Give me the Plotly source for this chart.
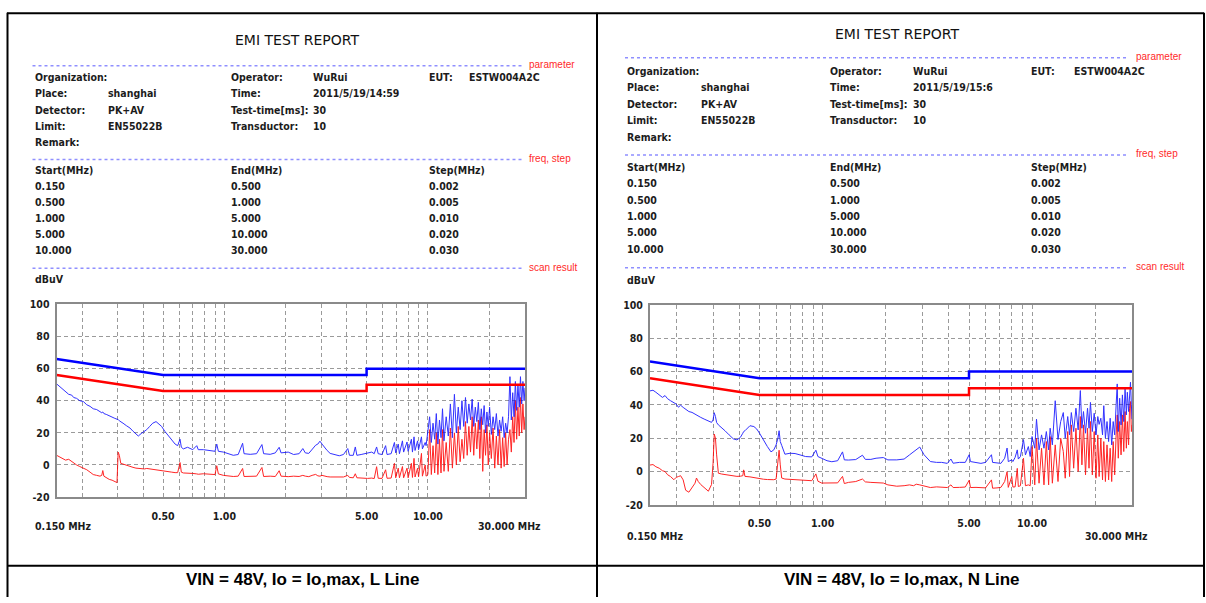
import plotly.graph_objects as go

# ---------------- data ----------------
limit_freq = [0.15, 0.5, 5.0, 5.0, 30.0]
limit_qp = [66, 56, 56, 60, 60]
limit_av = [56, 46, 46, 50, 50]

# L line scan (MHz, dBuV)
l_freq = [0.150, 0.155, 0.160, 0.166, 0.172, 0.178, 0.182, 0.188, 0.195, 0.203,
          0.211, 0.219, 0.227, 0.236, 0.245, 0.250, 0.253, 0.256, 0.263, 0.272,
          0.281, 0.290, 0.297, 0.301, 0.305, 0.310, 0.318, 0.330, 0.344, 0.356,
          0.368, 0.378, 0.390, 0.405, 0.416, 0.430, 0.445, 0.462, 0.478, 0.492,
          0.510, 0.531, 0.552, 0.573, 0.590, 0.606, 0.615, 0.629, 0.660, 0.700,
          0.732, 0.745, 0.790, 0.850, 0.900, 0.918, 0.935, 0.990, 1.050, 1.107,
          1.170, 1.230, 1.250, 1.340, 1.440, 1.530, 1.560, 1.680, 1.780, 1.860,
          1.900, 2.060, 2.190, 2.330, 2.430, 2.500, 2.600, 2.700, 2.810, 2.880,
          2.950, 3.020, 3.090, 3.200, 3.310, 3.500, 3.670, 3.850, 4.040, 4.120,
          4.300, 4.400, 4.480, 4.700, 4.900, 5.050, 5.300, 5.450, 5.600, 5.700,
          5.950, 6.200, 6.300, 6.600, 6.850, 6.950, 7.150, 7.250, 7.500, 7.600,
          7.900, 8.000, 8.300, 8.400, 8.550, 8.650, 8.900, 9.000, 9.300, 9.400,
          9.700, 9.800, 10.0, 10.2, 10.4, 10.6, 10.8, 11.0, 11.2, 11.4,
          11.6, 11.8, 12.0, 12.3, 12.6, 12.9, 13.2, 13.5, 13.8, 14.1,
          14.4, 14.7, 15.0, 15.3, 15.6, 15.9, 16.2, 16.5, 16.8, 17.1,
          17.4, 17.7, 18.0, 18.3, 18.6, 18.9, 19.2, 19.5, 19.8, 20.1,
          20.5, 20.9, 21.3, 21.7, 22.1, 22.5, 22.9, 23.3, 23.7, 24.1,
          24.5, 24.9, 25.3, 25.7, 26.1, 26.5, 26.9, 27.3, 27.7, 28.1,
          28.5, 28.9, 29.3, 29.7, 30.0]
l_peak = [50.5, 49.0, 47.5, 46.0, 44.0, 43.5, 42.0, 41.5, 40.0, 39.5,
          37.5, 36.5, 35.0, 34.5, 33.5, 32.5, 33.0, 32.0, 31.5, 30.5,
          29.5, 29.0, 28.5, 28.3, 27.5, 27.0, 26.0, 24.5, 23.0, 21.0,
          19.0, 18.0, 19.5, 21.0, 22.0, 24.0, 26.0, 27.0, 25.5, 24.0,
          21.0, 18.0, 15.0, 13.0, 12.0, 16.0, 11.0, 10.0, 11.0, 9.5,
          12.0, 9.5, 9.5, 9.0, 8.5, 13.0, 8.5, 8.0, 7.0, 6.0,
          6.5, 13.5, 7.0, 6.6, 7.0, 12.7, 7.0, 6.6, 7.5, 11.0,
          7.5, 8.0, 6.5, 7.0, 10.2, 7.5, 7.2, 10.0, 12.3, 13.0,
          14.8, 13.0, 11.2, 9.0, 7.2, 6.5, 5.7, 6.5, 10.2, 6.0,
          6.0, 11.2, 6.0, 6.5, 7.0, 7.8, 8.0, 7.0, 11.2, 7.0,
          6.5, 12.0, 6.5, 7.0, 14.0, 7.5, 13.0, 7.0, 15.0, 8.0,
          14.3, 8.5, 16.0, 8.0, 17.5, 9.0, 15.0, 9.5, 17.5, 10.0,
          14.0, 12.0, 20.0, 30.0, 14.0, 26.0, 16.0, 32.0, 13.0, 28.0,
          17.0, 35.0, 15.0, 30.0, 18.0, 38.0, 17.0, 44.0, 20.0, 36.0,
          22.0, 40.0, 24.0, 42.0, 26.0, 38.0, 28.0, 41.0, 24.0, 36.0,
          27.0, 39.0, 22.0, 35.0, 25.0, 37.0, 20.0, 33.0, 24.0, 36.0,
          19.0, 30.0, 22.0, 32.0, 18.0, 28.0, 21.0, 30.0, 17.0, 26.0,
          20.0, 30.0, 55.0, 28.0, 45.0, 30.0, 52.0, 34.0, 50.0, 36.0,
          55.0, 38.0, 52.0, 40.0, 48.0]
l_avg = [6.0, 5.0, 4.5, 3.0, 3.5, 2.0, 1.5, 0.0, -1.0, -2.0,
         -3.0, -4.5, -6.0, -6.5, -7.0, -6.5, -3.5, -7.0, -8.0, -9.0,
         -9.5, -10.3, -11.0, 8.0, 6.0, 1.0, 0.5, -0.5, -1.0, -1.5,
         -2.0, -2.2, -2.0, -2.5, -2.2, -2.5, -3.0, -3.0, -3.5, -3.5,
         -4.0, -4.5, -4.5, -4.8, -4.8, 1.5, -4.5, -5.0, -5.0, -5.3,
         -5.6, -5.8, -5.5, -5.8, -6.0, -0.5, -5.6, -6.5, -7.0, -7.2,
         -7.0, -2.2, -7.2, -7.3, -7.0, -1.6, -7.2, -7.0, -7.2, -3.6,
         -7.0, -7.3, -7.0, -7.2, -6.5, -7.0, -7.3, -6.5, -5.9, -6.8,
         -7.0, -6.5, -7.0, -7.3, -7.5, -7.5, -7.8, -7.5, -6.5, -7.8,
         -8.0, -5.5, -8.0, -8.2, -8.3, -8.4, -8.2, -8.5, -1.1, -8.3,
         -8.4, -3.0, -8.3, -8.2, 1.0, -8.0, -2.0, -8.0, -1.0, -8.0,
         -2.0, -8.0, 1.0, -7.8, 4.1, -7.5, -2.0, -7.5, 7.2, -7.0,
         0.0, -7.0, -6.0, 22.0, -6.0, 12.0, -5.0, 20.0, -6.0, 16.0,
         -5.0, 22.0, -4.0, 14.0, -4.0, 23.0, -2.0, 20.0, 0.0, 24.0,
         2.0, 16.0, 4.0, 27.0, 6.0, 24.0, 8.0, 30.0, 6.0, 26.0,
         10.0, 28.0, 4.0, 30.0, -4.0, 22.0, 6.0, 25.0, 0.0, 20.0,
         4.0, 23.0, -2.0, 18.0, 0.0, 22.0, -2.0, 17.0, -1.0, 20.0,
         0.0, 16.0, 22.0, 8.0, 30.0, 14.0, 40.0, 16.0, 36.0, 18.0,
         42.0, 20.0, 38.0, 22.0, 30.0]

# N line scan (MHz, dBuV)
n_freq = [0.150, 0.155, 0.160, 0.166, 0.172, 0.177, 0.182, 0.188, 0.195, 0.200,
          0.205, 0.210, 0.216, 0.222, 0.230, 0.238, 0.246, 0.250, 0.255, 0.262,
          0.272, 0.285, 0.295, 0.300, 0.304, 0.308, 0.312, 0.318, 0.330, 0.342,
          0.358, 0.375, 0.390, 0.405, 0.416, 0.420, 0.426, 0.450, 0.470, 0.485,
          0.500, 0.522, 0.545, 0.567, 0.585, 0.600, 0.612, 0.620, 0.628, 0.638,
          0.661, 0.700, 0.739, 0.780, 0.830, 0.888, 0.929, 0.950, 0.990, 1.050,
          1.107, 1.180, 1.245, 1.270, 1.330, 1.440, 1.550, 1.600, 1.700, 1.800,
          1.950, 2.050, 2.260, 2.450, 2.600, 2.720, 2.800, 2.910, 3.050, 3.270,
          3.500, 3.700, 3.940, 4.100, 4.200, 4.500, 4.800, 5.010, 5.080, 5.400,
          5.700, 6.000, 6.400, 6.480, 6.800, 7.100, 7.400, 7.600, 7.700, 8.000,
          8.100, 8.300, 8.500, 8.600, 8.800, 9.100, 9.300, 9.600, 9.800, 10.0,
          10.3, 10.5, 10.8, 11.1, 11.4, 11.7, 12.0, 12.2, 12.5, 12.9,
          13.3, 13.7, 14.1, 14.4, 14.8, 15.1, 15.4, 15.8, 16.2, 16.6,
          17.0, 17.3, 17.6, 18.0, 18.4, 18.7, 19.0, 19.4, 19.8, 20.2,
          20.6, 20.9, 21.3, 21.7, 22.0, 22.4, 22.8, 23.2, 23.6, 24.0,
          24.4, 24.8, 25.2, 25.5, 25.8, 26.2, 26.6, 27.0, 27.4, 27.8,
          28.2, 28.5, 28.9, 29.2, 29.5, 29.8, 30.0]
n_peak = [48.4, 48.8, 47.6, 46.0, 44.5, 45.6, 43.7, 42.5, 41.5, 40.5,
          38.6, 39.8, 38.5, 37.5, 36.0, 35.5, 34.3, 34.0, 33.5, 32.5,
          31.5, 30.4, 29.5, 31.0, 35.3, 33.0, 29.4, 28.0, 26.5, 24.5,
          22.0, 19.6, 19.0, 20.5, 23.0, 24.0, 24.5, 27.5, 27.0, 25.5,
          23.0, 18.6, 15.0, 11.8, 13.0, 16.0, 20.0, 24.5, 18.0, 15.7,
          10.4, 11.0, 10.8, 10.0, 9.0, 8.8, 12.8, 9.0, 7.8, 6.5,
          5.9, 6.5, 11.8, 7.0, 6.9, 7.2, 9.8, 7.3, 7.3, 8.0,
          8.4, 7.0, 7.0, 7.5, 10.0, 12.1, 13.0, 14.7, 10.1, 6.0,
          5.5, 5.5, 4.9, 7.5, 5.0, 5.5, 5.5, 10.1, 6.0, 5.5,
          4.9, 5.5, 10.1, 5.5, 5.0, 4.9, 8.0, 14.1, 6.0, 7.0,
          6.0, 8.5, 13.0, 7.5, 9.0, 19.2, 10.0, 15.0, 9.0, 21.0,
          14.0, 31.4, 13.0, 22.0, 14.0, 24.0, 13.0, 26.0, 16.0, 42.5,
          19.2, 30.0, 35.4, 20.0, 33.0, 22.0, 35.4, 24.0, 38.0, 25.0,
          48.6, 26.0, 36.0, 23.0, 38.0, 26.0, 41.5, 24.0, 35.0, 22.0,
          33.0, 28.3, 32.0, 22.0, 39.5, 20.0, 30.0, 18.0, 32.0, 16.0,
          30.0, 22.0, 40.0, 52.6, 24.0, 44.0, 28.0, 46.0, 30.0, 50.0,
          34.0, 47.6, 36.0, 50.0, 53.6, 40.0, 31.4]
n_avg = [3.9, 4.2, 2.9, 2.0, 0.5, 0.0, -1.9, -3.0, -4.9, -3.5,
         -3.0, -2.5, -5.0, -11.2, -12.4, -10.0, -7.0, -3.9, -6.0, -7.8,
         -9.5, -11.8, -7.8, 5.0, 22.5, 20.0, 10.0, -1.0, -1.5, -1.9,
         -2.2, -2.5, -2.9, -2.8, -2.5, 1.0, -2.9, -3.2, -3.6, -4.0,
         -4.5, -4.6, -4.8, -4.9, -4.9, -4.5, 5.0, 12.8, 4.0, -3.9,
         -4.5, -4.7, -4.9, -5.0, -5.2, -5.5, -1.4, -5.8, -6.9, -6.9,
         -6.5, -6.8, -2.9, -7.2, -6.5, -6.0, -4.5, -6.2, -6.5, -6.8,
         -6.9, -8.0, -8.8, -8.5, -8.0, -8.5, -7.6, -8.0, -8.8, -9.6,
         -9.2, -9.5, -9.6, -8.0, -9.6, -9.5, -9.3, -5.2, -9.6, -9.5,
         -9.5, -9.8, -5.0, -10.0, -9.8, -9.5, -6.0, -0.1, -9.5, -3.0,
         -9.3, -9.2, 1.9, -9.0, -8.5, 8.0, -8.5, -8.0, -8.5, 15.0,
         -8.0, 20.0, -7.0, 14.0, -8.0, 18.0, -8.0, 21.0, -7.0, 16.0,
         -6.0, 20.0, 12.0, -4.0, 24.0, -3.0, 28.0, 2.0, 26.0, 0.0,
         33.0, 4.0, 28.0, -2.0, 26.0, 2.0, 30.0, -2.0, 24.0, -4.0,
         22.0, -3.0, 20.0, -5.0, 18.0, -6.0, 16.0, -5.0, 14.0, -6.0,
         18.0, -2.0, 22.0, 34.0, 8.0, 30.0, 10.0, 34.0, 12.0, 36.0,
         14.0, 30.0, 16.0, 38.0, 42.0, 24.0, 28.0]

x_tick_vals = [0.5, 1.0, 5.0, 10.0]
x_tick_text = ["0.50", "1.00", "5.00", "10.00"]
x_grid_vals = [0.2, 0.3, 0.4, 0.5, 0.6, 0.7, 0.8, 0.9, 1, 2, 3, 4, 5, 6, 7, 8, 9, 10, 20]
y_tick_vals = [-20, 0, 20, 40, 60, 80, 100]
y_tick_text = ["-20", "0", "20", "40", "60", "80", "100"]

panels = [
    dict(name="L", freq=l_freq, peak=l_peak, avg=l_avg,
         time="2011/5/19/14:59", caption="VIN = 48V, Io = Io,max, L Line"),
    dict(name="N", freq=n_freq, peak=n_peak, avg=n_avg,
         time="2011/5/19/15:6", caption="VIN = 48V, Io = Io,max, N Line"),
]
freq_table = [("0.150", "0.500", "0.002"), ("0.500", "1.000", "0.005"),
              ("1.000", "5.000", "0.010"), ("5.000", "10.000", "0.020"),
              ("10.000", "30.000", "0.030")]

# ---------------- layout geometry (pixels) ----------------
W, H = 1206, 603
NARROW = "Liberation Sans Narrow, Arial Narrow, DejaVu Sans Condensed, sans-serif"
INK = "#1c1c1c"
GRID = "#9a9a9a"
GRID_DASH = "4px,3px"


def px(x):
    return x / W


def py(y):
    return 1 - y / H


geo = [
    dict(plot=(56.6, 525.0, 304.5, 501.0), title=(297, 35),
         cols=(32.5, 106, 229, 311, 427, 467), rows=(72.7, 89.2, 105.7, 122.2, 138.5),
         seps=(61, 156.5, 267.5), sep_x=(32.5, 522), red_x=527,
         tcols=(32.5, 229, 427), trows=(167.7, 183.5, 200, 216.5, 233, 249.3),
         dbuv=278.3, mhz_y=531, mhz_right=543, cap=(302, 585)),
    dict(plot=(650.0, 1132.0, 305.0, 509.0), title=(897.6, 28.3),
         cols=(625, 699, 828, 911, 1029, 1072), rows=(66, 83, 100, 116.7, 133.3),
         seps=(52.7, 152, 267), sep_x=(625, 1129), red_x=1134,
         tcols=(625, 828, 1029), trows=(164.5, 181, 197.7, 214.3, 231, 247.7),
         dbuv=280, mhz_y=541, mhz_right=1150, cap=(902, 585)),
]

fig = go.Figure()
annotations = []
shapes = []


def txt(x, y, s, size=10.5, bold=True, color=INK, family=NARROW, xanchor="left"):
    annotations.append(dict(x=px(x), y=py(y), xref="paper", yref="paper",
                            text=f"<b>{s}</b>" if bold else s, showarrow=False,
                            xanchor=xanchor, yanchor="middle",
                            font=dict(family=family, size=size, color=color)))


for i, (p, g) in enumerate(zip(panels, geo)):
    xa = "x" if i == 0 else "x2"
    ya = "y" if i == 0 else "y2"
    fig.add_trace(go.Scatter(x=p["freq"], y=p["avg"], mode="lines", xaxis=xa, yaxis=ya,
                             line=dict(color="rgb(255,0,0)", width=1), opacity=0.85,
                             showlegend=False, name="AV"))
    fig.add_trace(go.Scatter(x=p["freq"], y=p["peak"], mode="lines", xaxis=xa, yaxis=ya,
                             line=dict(color="rgb(0,0,255)", width=1), opacity=0.8,
                             showlegend=False, name="PK"))
    fig.add_trace(go.Scatter(x=limit_freq, y=limit_av, mode="lines", xaxis=xa, yaxis=ya,
                             line=dict(color="rgb(255,0,0)", width=2.5),
                             showlegend=False, name="AV limit"))
    fig.add_trace(go.Scatter(x=limit_freq, y=limit_qp, mode="lines", xaxis=xa, yaxis=ya,
                             line=dict(color="rgb(0,0,255)", width=2.5),
                             showlegend=False, name="QP limit"))

    x0, x1, yt, yb = g["plot"]
    common_x = dict(type="log", range=[-0.823909, 1.477121], domain=[px(x0), px(x1)],
                    tickmode="array", tickvals=x_tick_vals, ticktext=x_tick_text,
                    ticks="outside", ticklen=8, tickcolor="rgba(0,0,0,0)",
                    tickfont=dict(family=NARROW, size=10.5, color=INK, weight="bold"),
                    showgrid=True, gridcolor=GRID, griddash=GRID_DASH, gridwidth=1,
                    minor=dict(tickmode="array", tickvals=x_grid_vals, showgrid=True,
                               gridcolor=GRID, griddash=GRID_DASH, gridwidth=1, ticks=""),
                    showline=True, linecolor="#8a8a8a", linewidth=2, mirror=True,
                    zeroline=False, fixedrange=True)
    common_y = dict(range=[-20, 100], domain=[py(yb), py(yt)],
                    tickmode="array", tickvals=y_tick_vals, ticktext=y_tick_text,
                    ticks="outside", ticklen=3, tickcolor="rgba(0,0,0,0)",
                    tickfont=dict(family=NARROW, size=10.5, color=INK, weight="bold"),
                    showgrid=True, gridcolor=GRID, griddash=GRID_DASH, gridwidth=1,
                    showline=True, linecolor="#8a8a8a", linewidth=2, mirror=True,
                    zeroline=False, fixedrange=True)
    if i == 0:
        fig.update_layout(xaxis=dict(anchor="y", **common_x), yaxis=dict(anchor="x", **common_y))
    else:
        fig.update_layout(xaxis2=dict(anchor="y2", **common_x), yaxis2=dict(anchor="x2", **common_y))

    # title
    txt(g["title"][0], g["title"][1], "EMI TEST REPORT", size=14, bold=False,
        family="DejaVu Sans, sans-serif", color="#111", xanchor="center")
    # separators
    for sy, lab in zip(g["seps"], ["parameter", "freq, step", "scan result"]):
        shapes.append(dict(type="line", xref="paper", yref="paper",
                           x0=px(g["sep_x"][0]), x1=px(g["sep_x"][1]), y0=py(sy), y1=py(sy),
                           line=dict(color="#8f8fff", width=1.5, dash="dot")))
        txt(g["red_x"], sy - 1, lab, size=10, bold=False, color="#ff2a2a",
            family="Liberation Sans, Arial, sans-serif")
    c = g["cols"]
    r = g["rows"]
    header = [
        [("Organization:", c[0]), ("Operator:", c[2]), ("WuRui", c[3]), ("EUT:", c[4]), ("ESTW004A2C", c[5])],
        [("Place:", c[0]), ("shanghai", c[1]), ("Time:", c[2]), (p["time"], c[3])],
        [("Detector:", c[0]), ("PK+AV", c[1]), ("Test-time[ms]:", c[2]), ("30", c[3])],
        [("Limit:", c[0]), ("EN55022B", c[1]), ("Transductor:", c[2]), ("10", c[3])],
        [("Remark:", c[0])],
    ]
    for row, yy in zip(header, r):
        for s, xx in row:
            txt(xx, yy, s)
    tc = g["tcols"]
    tr = g["trows"]
    for s, xx in zip(["Start(MHz)", "End(MHz)", "Step(MHz)"], tc):
        txt(xx, tr[0], s)
    for row, yy in zip(freq_table, tr[1:]):
        for s, xx in zip(row, tc):
            txt(xx, yy, s)
    txt(tc[0], g["dbuv"], "dBuV")
    txt(tc[0], g["mhz_y"], "0.150 MHz")
    txt(g["mhz_right"], g["mhz_y"], "30.000 MHz", xanchor="right")
    txt(g["cap"][0], g["cap"][1], p["caption"], size=17, family="Liberation Sans, Arial, sans-serif",
        color="#000", xanchor="center")

# table borders
border = dict(color="#000", width=2)
for (xa0, ya0, xa1, ya1) in [(7.5, 7, 7.5, 603), (597, 7, 597, 603), (1204, 7, 1204, 603),
                             (7, 7.5, 1204, 7.5), (7, 571, 1204, 571)]:
    shapes.append(dict(type="line", xref="paper", yref="paper",
                       x0=px(xa0), x1=px(xa1), y0=py(ya0), y1=py(ya1), line=border))

fig.update_layout(width=W, height=H, margin=dict(l=0, r=0, t=0, b=0),
                  paper_bgcolor="white", plot_bgcolor="white",
                  annotations=annotations, shapes=shapes, showlegend=False)
fig.write_html("out.html", config={"displayModeBar": False},
               post_script="document.body.style.margin='0';document.body.style.overflow='hidden';")
